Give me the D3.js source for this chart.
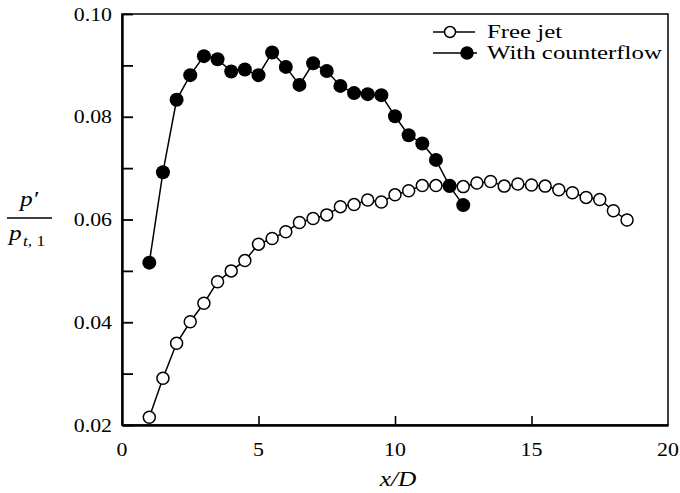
<!DOCTYPE html>
<html>
<head>
<meta charset="utf-8">
<script src="https://cdn.jsdelivr.net/npm/d3@7"></script>
<style>
  body { margin: 0; background: #fff; }
  text { font-family: 'Liberation Serif', 'Times New Roman', serif; fill: #000; }
</style>
</head>
<body>
<div id="chart"></div>
<script>
// x/D positions and p'/p_t,1 values
const xCounterflow = [1, 1.5, 2, 2.5, 3, 3.5, 4, 4.5, 5, 5.5, 6, 6.5, 7, 7.5, 8, 8.5, 9, 9.5, 10, 10.5, 11, 11.5, 12, 12.5]
const yCounterflow = [0.0516, 0.0692, 0.0833, 0.0881, 0.0918, 0.0912, 0.0888, 0.0892, 0.0881, 0.0925, 0.0897, 0.0862,
  0.0904, 0.0889, 0.0860, 0.0846, 0.0844, 0.0842, 0.0801, 0.0764, 0.0748, 0.0716, 0.0665, 0.0628]

const xFreeJet = [1, 1.5, 2, 2.5, 3, 3.5, 4, 4.5, 5, 5.5, 6, 6.5, 7, 7.5, 8, 8.5, 9, 9.5, 10, 10.5, 11, 11.5,
  12, 12.5, 13, 13.5, 14, 14.5, 15, 15.5, 16, 16.5, 17, 17.5, 18, 18.5]
const yFreeJet = [0.0215, 0.0291, 0.0359, 0.0401, 0.0437, 0.0479, 0.0500, 0.0520, 0.0552, 0.0563, 0.0576, 0.0594,
  0.0602, 0.0609, 0.0625, 0.0629, 0.0638, 0.0634, 0.0648, 0.0656, 0.0666, 0.0666, 0.0666, 0.0664,
  0.0671, 0.0674, 0.0665, 0.0669, 0.0667, 0.0665, 0.0658, 0.0652, 0.0643, 0.0639, 0.0617, 0.0599]

const xTicks = [0, 5, 10, 15, 20]
const yTicks = [0.02, 0.03, 0.04, 0.05, 0.06, 0.07, 0.08, 0.09, 0.10]
const yLabelled = ['0.02', '0.04', '0.06', '0.08', '0.10']
const seriesNames = ['Free jet', 'With counterflow']

const width = 680
const height = 493
const plot = { left: 122, right: 668, top: 14, bottom: 425 }
const stretch = 1.15 // the printed figure is a bit wider than tall

const svg = d3.select('#chart')
  .append('svg')
  .attr('width', width)
  .attr('height', height)

const xScale = d3.scaleLinear().domain([0, 20]).range([plot.left, plot.right])
const yScale = d3.scaleLinear().domain([0.02, 0.10]).range([plot.bottom, plot.top])

function label (x, y, str, size, anchor, italic, sx) {
  return svg.append('text')
    .attr('transform', `translate(${x},${y}) scale(${sx || stretch},1)`)
    .attr('font-size', size)
    .attr('text-anchor', anchor || 'start')
    .attr('font-style', italic ? 'italic' : 'normal')
    .text(str)
}

// frame
svg.append('rect')
  .attr('x', plot.left)
  .attr('y', plot.top)
  .attr('width', plot.right - plot.left)
  .attr('height', plot.bottom - plot.top)
  .attr('fill', 'none')
  .attr('stroke', '#000')
  .attr('stroke-width', 1.5)

// axes with inward ticks
svg.append('g')
  .attr('transform', `translate(${plot.left},0)`)
  .call(d3.axisLeft(yScale).tickValues(yTicks).tickSizeInner(-11).tickSizeOuter(0).tickFormat(''))
  .call(g => g.select('.domain').attr('stroke-width', 2.4))
  .call(g => g.selectAll('.tick line').attr('stroke-width', 1.8))

svg.append('g')
  .attr('transform', `translate(0,${plot.bottom})`)
  .call(d3.axisBottom(xScale).tickValues(xTicks.slice(1, -1)).tickSizeInner(-9).tickSizeOuter(0).tickFormat(''))
  .call(g => g.select('.domain').attr('stroke-width', 2.4))
  .call(g => g.selectAll('.tick line').attr('stroke-width', 1.6))

yLabelled.forEach(t => {
  label(112, yScale(+t) + 6.5, t, 19, 'end')
})
xTicks.forEach(t => {
  label(xScale(t), 456, String(t), 19, 'middle')
})

// axis titles
label(398, 486, 'x/D', 22, 'middle', true)

svg.append('line')
  .attr('x1', 7).attr('x2', 52)
  .attr('y1', 218).attr('y2', 218)
  .attr('stroke', '#000').attr('stroke-width', 1.5)
label(29, 206, 'p′', 22, 'middle', true)
label(9, 240, 'p', 22, 'start', true)
svg.append('text')
  .attr('transform', `translate(23,246) scale(${stretch},1)`)
  .attr('font-size', 15)
  .call(t => t.append('tspan').attr('font-style', 'italic').text('t'))
  .call(t => t.append('tspan').text(', 1'))

// series
const freeData = xFreeJet.map((x, i) => ({ x, y: yFreeJet[i] }))
const counterData = xCounterflow.map((x, i) => ({ x, y: yCounterflow[i] }))

const line = d3.line()
  .x(d => xScale(d.x))
  .y(d => yScale(d.y))

svg.append('path')
  .attr('d', line(freeData))
  .attr('fill', 'none')
  .attr('stroke', '#000')
  .attr('stroke-width', 1.5)

svg.selectAll('.free')
  .data(freeData)
  .enter().append('circle')
  .attr('class', 'free')
  .attr('cx', d => xScale(d.x))
  .attr('cy', d => yScale(d.y))
  .attr('r', 6)
  .attr('fill', '#fff')
  .attr('stroke', '#000')
  .attr('stroke-width', 1.5)

svg.append('path')
  .attr('d', line(counterData))
  .attr('fill', 'none')
  .attr('stroke', '#000')
  .attr('stroke-width', 1.5)

svg.selectAll('.counter')
  .data(counterData)
  .enter().append('circle')
  .attr('class', 'counter')
  .attr('cx', d => xScale(d.x))
  .attr('cy', d => yScale(d.y))
  .attr('r', 7)
  .attr('fill', '#000')

// legend
const legendRows = [
  { y: 32, x1: 433, x2: 475, mx: 450, filled: false },
  { y: 53, x1: 433, x2: 477, mx: 467, filled: true }
]
legendRows.forEach((r, i) => {
  svg.append('line')
    .attr('x1', r.x1).attr('x2', r.x2)
    .attr('y1', r.y).attr('y2', r.y)
    .attr('stroke', '#000').attr('stroke-width', 1.5)
  svg.append('circle')
    .attr('cx', r.mx).attr('cy', r.y)
    .attr('r', r.filled ? 6 : 5.5)
    .attr('fill', r.filled ? '#000' : '#fff')
    .attr('stroke', '#000').attr('stroke-width', 1.5)
  label(487, r.y + 6, seriesNames[i], 18, 'start', false, 1.38)
})
</script>
</body>
</html>
